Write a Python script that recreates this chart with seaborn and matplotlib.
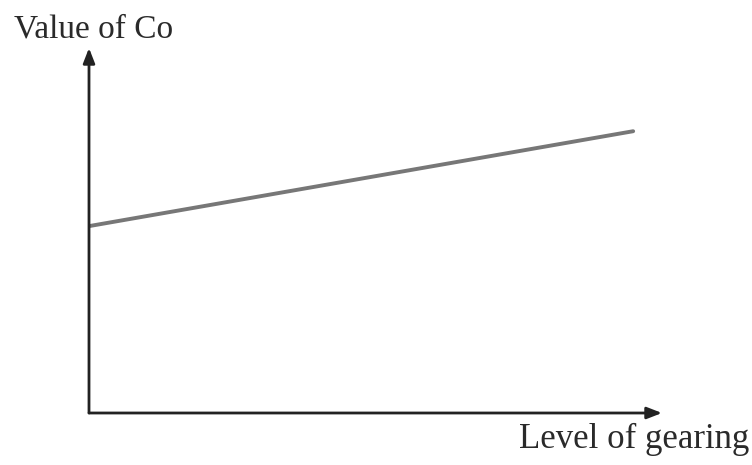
import numpy as np
import pandas as pd
import matplotlib.pyplot as plt
import seaborn as sns

sns.set_style("white")
plt.rcParams['font.family'] = ['Liberation Serif', 'DejaVu Serif']

# Co rises linearly with gearing
gearing = [0.0, 10.0]
value_co = [5.12, 7.72]

df = pd.DataFrame({"gearing": gearing, "co": value_co})

fig = plt.figure(figsize=(7.52, 4.65), dpi=100)
ax = fig.add_axes([89 / 752, 52 / 465, 573 / 752, 365 / 465])

sns.lineplot(data=df, x="gearing", y="co", ax=ax, color="#777777", linewidth=2.8)

ax.set_xlim(0, 10.53)
ax.set_ylim(0, 10)
ax.set_xticks([])
ax.set_yticks([])
ax.set_xlabel("")
ax.set_ylabel("")
for s in ax.spines.values():
    s.set_visible(False)

# axes drawn as arrows
arrow = dict(arrowstyle="-|>,head_length=0.9,head_width=0.35", color="#222222",
             lw=2.0, shrinkA=0, shrinkB=0)
ax.annotate("", xy=(0, 1), xytext=(0, 0), xycoords="axes fraction", arrowprops=arrow,
            annotation_clip=False)
ax.annotate("", xy=(1, 0), xytext=(0, 0), xycoords="axes fraction", arrowprops=arrow,
            annotation_clip=False)

fig.text(14 / 752, 1 - 29 / 465, "Value of Co", fontsize=24, color="#2a2a2a",
         ha="left", va="center")
fig.text(749 / 752, 1 - 439 / 465, "Level of gearing", fontsize=25, color="#2a2a2a",
         ha="right", va="center")

fig.savefig("out.png", dpi=100, facecolor="white")
